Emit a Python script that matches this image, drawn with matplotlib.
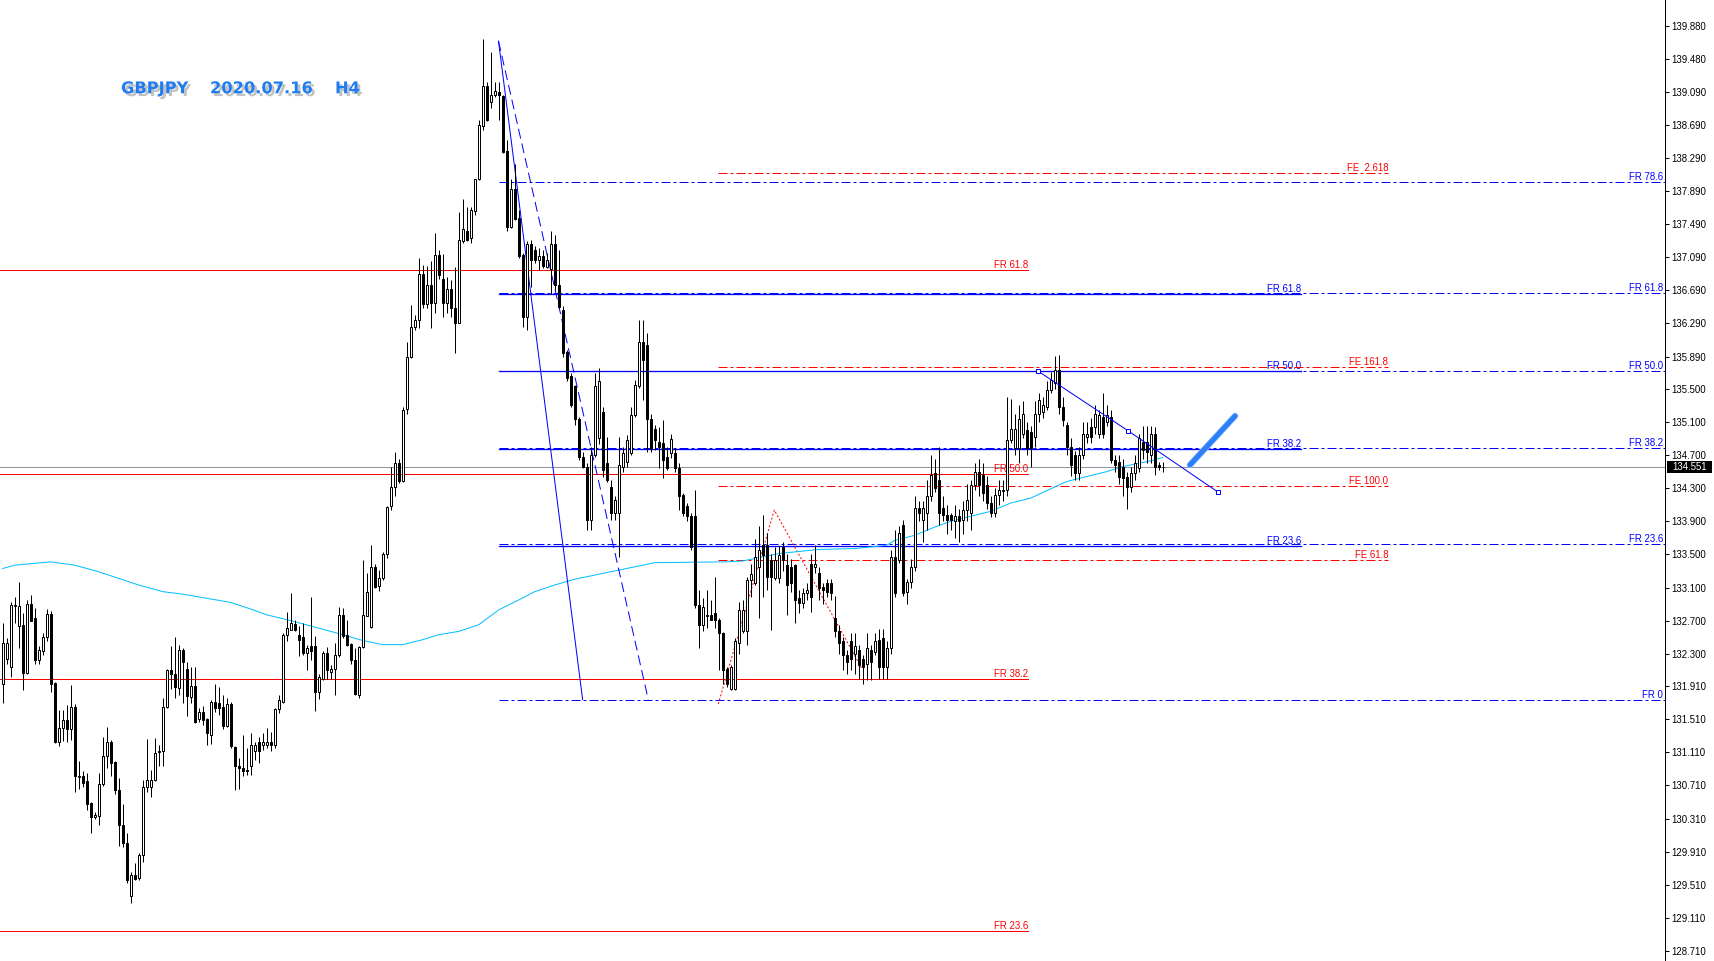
import matplotlib
matplotlib.use('Agg')
import matplotlib.pyplot as plt
import matplotlib.patheffects as pe
from matplotlib.patches import Rectangle
import matplotlib.transforms as mtransforms

plt.rcParams['lines.scale_dashes'] = False

W, H, DPI = 1714, 961, 100
PX = 72.0 / DPI  # points per pixel
SMALL = 6.9

# ---------------- data (GBPJPY H4) ----------------
opens = [131.94,132.24,132.14,132.88,132.64,132.65,132.07,132.90,132.73,132.23,
132.33,132.50,132.78,131.95,131.24,131.40,131.50,131.39,131.66,130.81,
130.82,130.76,130.50,130.33,130.34,130.73,131.06,131.24,130.99,130.66,
130.23,130.01,129.37,129.63,129.59,129.87,130.69,130.69,130.78,131.11,
131.12,131.66,132.10,132.06,131.89,132.34,132.11,131.78,131.91,131.51,
131.60,131.51,131.32,131.72,131.71,131.66,131.43,131.69,131.17,130.94,
130.92,130.90,130.94,131.13,131.24,131.20,131.20,131.24,131.20,131.63,
131.72,132.53,132.59,132.66,132.53,132.50,132.31,132.39,132.39,131.84,
132.00,132.31,132.08,132.11,132.28,132.77,132.53,132.42,132.23,131.80,
132.38,132.76,132.62,133.35,133.12,133.21,133.51,134.08,134.31,134.60,
134.39,135.26,135.89,136.25,136.33,136.89,136.53,136.75,136.54,137.12,
136.83,136.54,136.70,136.48,136.30,137.29,137.41,137.32,137.65,138.03,
138.67,139.16,138.96,139.05,139.09,139.04,138.37,137.46,137.91,137.56,
137.12,136.37,137.25,137.18,137.06,137.10,136.97,136.95,137.25,136.75,
136.45,135.95,135.65,135.53,135.14,134.68,134.56,133.92,134.70,134.90,
135.22,134.60,134.32,134.00,134.00,134.56,134.62,134.72,135.18,135.53,
136.07,136.03,135.14,135.02,134.86,134.84,134.68,134.72,134.72,134.54,
134.22,134.08,133.96,133.96,132.89,132.65,132.75,132.77,132.79,132.71,
132.55,132.12,131.88,131.88,132.43,132.57,132.57,133.19,133.15,133.35,
133.61,133.61,133.43,133.21,133.21,133.59,133.37,133.35,133.37,132.97,
132.91,133.03,133.39,133.35,133.27,133.11,133.15,133.15,132.73,132.57,
132.45,132.28,132.45,132.30,132.35,132.24,132.18,132.35,132.32,132.47,
132.49,132.14,132.37,133.47,133.43,133.86,133.05,133.17,133.35,134.06,
133.92,134.00,134.20,134.48,134.40,134.06,133.98,133.98,133.90,133.96,
133.92,134.04,134.00,134.34,134.50,134.46,134.34,134.12,134.00,134.22,
134.26,134.28,134.88,134.78,134.78,134.96,135.00,134.98,134.92,135.20,
135.22,135.28,135.49,135.57,135.73,135.28,135.06,134.80,134.70,134.48,
134.70,134.92,135.04,135.04,134.96,135.16,135.10,135.16,134.64,134.62,
134.56,134.44,134.32,134.48,134.54,134.86,134.86,134.70,134.96,134.58,
134.56]
highs = [132.67,132.49,132.92,132.99,133.17,132.79,132.95,133.01,132.85,132.39,
132.55,132.84,132.82,131.96,131.62,131.62,131.68,131.92,131.69,131.00,
130.88,130.86,130.51,130.39,130.86,131.30,131.42,131.26,131.01,130.80,
130.49,130.13,129.66,129.77,129.89,130.78,131.27,130.90,131.28,131.20,
131.76,132.11,132.39,132.50,132.41,132.37,132.20,132.14,132.14,131.64,
131.67,131.53,131.74,131.93,131.90,131.80,131.76,131.72,131.19,131.04,
131.32,131.16,131.34,131.23,131.30,131.34,131.40,131.36,131.64,131.80,
132.55,132.81,133.03,132.71,132.63,132.67,132.41,132.99,132.51,132.06,
132.33,132.38,132.16,132.43,132.87,132.85,132.71,132.43,132.37,132.39,
133.43,133.28,133.61,133.38,133.31,133.53,134.08,134.56,134.74,134.65,
135.28,136.06,136.51,136.39,137.08,136.99,136.98,137.04,137.38,137.18,
137.13,136.85,136.81,136.97,137.64,137.79,137.70,137.70,138.04,138.75,
139.73,139.21,139.57,139.21,139.21,139.05,138.51,138.03,138.22,137.66,
137.14,137.29,137.30,137.22,137.20,137.18,137.14,137.40,137.36,137.18,
136.50,135.97,135.69,135.55,135.16,134.74,134.60,134.80,135.69,135.75,
135.28,134.92,134.40,134.20,134.92,134.80,134.94,135.28,135.61,136.33,
136.33,136.17,135.20,135.06,135.04,135.12,134.80,134.95,134.78,134.60,
134.24,134.12,134.00,134.28,133.07,132.97,133.07,132.95,133.23,132.73,
132.56,132.14,132.16,132.49,132.93,132.95,133.23,133.39,133.69,133.84,
133.98,133.76,133.51,133.59,133.60,133.65,133.51,133.45,133.39,133.07,
133.10,133.15,133.51,133.61,133.35,133.15,133.20,133.20,133.00,132.65,
132.50,132.35,132.55,132.55,132.40,132.28,132.55,132.40,132.55,132.60,
132.60,132.45,133.55,133.80,133.84,133.92,133.20,133.45,134.20,134.15,
134.15,134.40,134.70,134.65,134.80,134.20,134.10,134.00,134.10,134.05,
134.15,134.35,134.40,134.60,134.65,134.60,134.45,134.20,134.30,134.40,
134.40,135.40,135.38,135.20,135.30,135.35,135.10,135.05,135.35,135.45,
135.40,135.60,135.70,135.90,135.91,135.40,135.10,134.90,134.75,134.80,
135.10,135.10,135.15,135.30,135.25,135.45,135.30,135.25,134.70,134.70,
134.65,134.50,134.55,134.70,134.95,135.05,135.05,135.05,135.04,134.62,
134.62]
lows = [131.70,132.18,132.02,132.67,132.37,131.86,132.06,132.69,132.18,132.18,
132.29,132.45,131.84,131.22,131.18,131.25,131.24,131.26,130.63,130.67,
130.69,130.41,130.13,130.31,130.23,130.70,130.92,130.82,130.60,129.98,
129.97,129.53,129.29,129.57,129.57,129.79,130.63,130.57,130.76,130.94,
130.94,131.64,131.88,131.76,131.80,131.70,131.55,131.70,131.46,131.47,
131.44,131.20,131.21,131.60,131.56,131.39,131.42,131.16,130.66,130.67,
130.82,130.84,130.84,131.02,130.98,131.14,131.16,131.12,131.16,131.58,
131.70,132.45,132.59,132.57,132.27,132.29,132.10,132.22,131.61,131.75,
131.98,131.99,131.99,131.80,132.26,132.49,132.39,132.18,131.80,131.76,
132.37,132.75,132.61,133.09,133.06,133.19,133.46,134.04,134.20,134.36,
134.38,135.20,135.87,136.21,136.23,136.47,136.47,136.23,136.41,136.83,
136.37,136.41,136.37,135.93,136.29,137.26,137.28,137.26,137.60,138.02,
138.63,138.73,138.89,139.03,138.75,138.35,137.40,137.44,137.54,137.08,
136.25,136.21,136.73,137.02,136.94,136.96,136.96,136.65,136.69,136.47,
135.89,135.60,135.28,135.06,134.64,134.54,133.80,133.80,134.68,134.83,
134.44,134.38,133.92,133.92,133.47,134.50,134.56,134.70,135.16,135.51,
135.37,134.74,134.74,134.76,134.54,134.42,134.52,134.66,134.50,134.04,
133.96,133.90,133.55,132.85,132.37,132.57,132.61,132.71,132.61,132.10,
131.94,131.90,131.86,131.86,132.30,132.55,132.41,132.99,133.13,132.73,
132.99,133.07,132.59,133.19,133.15,133.30,132.77,133.05,132.67,132.79,
132.85,132.95,132.81,133.27,132.95,132.90,132.98,132.95,132.50,132.30,
132.10,132.05,132.10,132.05,132.00,131.94,131.98,131.98,132.28,132.00,
132.00,132.00,132.30,132.99,133.40,133.00,132.90,133.10,133.30,133.90,
133.65,133.80,134.15,134.25,133.85,133.90,133.75,133.80,133.70,133.65,
133.75,133.90,133.80,134.28,134.20,134.15,134.05,133.95,133.95,134.10,
134.15,134.20,134.85,134.70,134.60,134.90,134.70,134.55,134.80,135.10,
135.15,135.25,135.45,135.50,135.20,135.05,134.70,134.45,134.40,134.40,
134.65,134.85,134.85,134.95,134.90,134.90,135.05,134.60,134.50,134.35,
134.20,134.05,134.25,134.40,134.50,134.65,134.60,134.60,134.46,134.52,
134.50]
closes = [132.43,132.43,132.89,132.89,132.88,132.07,132.90,132.70,132.23,132.34,
132.50,132.78,131.94,131.24,131.40,131.50,131.39,131.66,130.82,130.82,
130.74,130.49,130.33,130.35,130.73,131.06,131.24,130.98,130.66,130.23,
130.01,129.57,129.63,129.58,129.87,130.69,130.78,130.78,131.10,131.12,
131.66,132.10,132.06,131.90,132.34,132.20,131.79,131.91,131.48,131.60,
131.50,131.34,131.72,131.64,131.64,131.43,131.69,131.18,130.94,130.92,
130.88,130.88,131.20,131.20,131.13,131.24,131.24,131.20,131.63,131.74,
132.53,132.61,132.67,132.59,132.47,132.31,132.37,132.33,131.84,132.02,
132.31,132.10,132.11,132.28,132.77,132.51,132.41,132.22,131.81,132.38,
132.77,133.04,133.35,133.11,133.22,133.51,134.07,134.32,134.60,134.39,
135.25,135.89,136.25,136.33,136.89,136.53,136.75,136.54,137.12,136.87,
136.54,136.70,136.48,136.30,137.30,137.43,137.30,137.66,138.03,138.69,
139.16,138.75,139.05,139.10,139.05,138.36,137.46,137.91,137.55,137.10,
136.37,137.25,137.05,137.05,137.10,136.98,137.06,137.25,136.75,136.49,
135.93,135.63,135.30,135.14,134.68,134.56,133.92,134.70,135.53,135.60,
134.52,134.40,134.00,134.16,134.58,134.72,134.88,135.18,135.55,136.07,
135.85,135.14,134.77,134.88,134.80,134.64,134.54,134.89,134.54,134.20,
134.00,133.96,133.59,132.89,132.65,132.87,132.77,132.71,132.71,132.55,
132.10,131.94,132.14,132.45,132.83,132.83,133.19,133.26,133.47,133.55,
133.49,133.23,133.23,133.43,133.49,133.43,133.13,133.15,132.95,132.91,
133.03,133.07,132.99,133.39,133.09,133.07,133.05,133.03,132.57,132.43,
132.28,132.20,132.24,132.39,132.16,132.14,132.37,132.20,132.45,132.14,
132.14,132.37,133.47,133.03,133.76,133.03,133.17,133.35,134.06,134.00,
134.06,134.20,134.46,134.30,134.00,133.98,133.92,133.92,133.96,133.90,
134.04,134.16,134.34,134.50,134.34,134.24,134.12,134.00,134.22,134.28,
134.28,134.88,135.02,135.02,135.14,135.20,134.78,134.78,135.20,135.37,
135.30,135.49,135.61,135.73,135.28,135.12,134.80,134.58,134.48,134.70,
134.96,134.96,134.92,135.20,135.18,134.96,135.18,134.64,134.58,134.44,
134.42,134.32,134.48,134.60,134.90,134.76,134.74,134.96,134.56,134.56,
134.551]

# moving average (read at sample bars)
ma_bars = [0, 3, 12, 18, 24, 29, 34, 40, 45, 51, 57, 62, 66, 72, 79, 85, 90, 95, 100, 105,
           109, 114, 119, 124, 129, 133, 138, 143, 148, 160, 163, 181, 185, 194, 204, 213,
           221, 223, 228, 233, 237, 242, 247, 252, 257, 261, 266, 271, 276, 280, 287, 290]
ma_vals = [133.33, 133.37, 133.41, 133.37, 133.29, 133.21, 133.13, 133.05, 133.02, 132.97,
           132.92, 132.84, 132.77, 132.70, 132.61, 132.53, 132.46, 132.41, 132.41, 132.47,
           132.53, 132.57, 132.65, 132.83, 132.95, 133.05, 133.13, 133.20, 133.25, 133.37,
           133.40, 133.41, 133.42, 133.51, 133.56, 133.57, 133.61, 133.67, 133.73, 133.83,
           133.90, 133.96, 134.02, 134.12, 134.18, 134.27, 134.38, 134.44, 134.50, 134.56,
           134.63, 134.67]

# Fibonacci objects
fr_red_levels = [136.935, 134.467, 131.998, 128.948]
fr_red_labels = ['FR 61.8', 'FR 50.0', 'FR 38.2', 'FR 23.6']
fr_red_span = [-1.0, 256.3]

fr_blue_levels = [137.992, 136.658, 135.720, 134.783, 133.621, 131.747]
fr_blue_labels = ['FR 78.6', 'FR 61.8', 'FR 50.0', 'FR 38.2', 'FR 23.6', 'FR 0']
fr_blue_start = 123.95

fr_blue2_levels = [136.650, 135.712, 134.775, 133.597]
fr_blue2_labels = ['FR 61.8', 'FR 50.0', 'FR 38.2', 'FR 23.6']
fr_blue2_span = [123.95, 324.6]

fe_levels = [138.110, 135.760, 134.321, 133.436]
fe_labels = ['FE  2.618', 'FE 161.8', 'FE 100.0', 'FE 61.8']
fe_span = [178.8, 346.4]

fe_zigzag_bars = [178.9, 192.9, 214.75]
fe_zigzag_prices = [131.693, 134.036, 132.124]

trend_solid_bars = [123.95, 144.98]
trend_dash_bars = [123.95, 161.4]
trend_prices = [139.70, 131.747]

down_line_bars = [258.9, 281.4, 303.9]
down_line_prices = [135.712, 134.991, 134.250]

arrow_bars = [296.8, 308.1]
arrow_prices = [134.580, 135.172]

current_price = 134.551

tick_prices = [139.880, 139.480, 139.090, 138.690, 138.290, 137.890, 137.490, 137.090,
               136.690, 136.290, 135.890, 135.500, 135.100, 134.700, 134.300, 133.900,
               133.500, 133.100, 132.700, 132.300, 131.910, 131.510, 131.110, 130.710,
               130.310, 129.910, 129.510, 129.110, 128.710]

title_parts = ['GBPJPY', '2020.07.16', 'H4']

# ---------------- figure ----------------
fig = plt.figure(figsize=(W / DPI, H / DPI), dpi=DPI, facecolor='white')
axw = 1665.0 / W
ax = fig.add_axes([0, 0, axw, 1])
ax.set_facecolor('white')
ax.set_xlim(-0.675, 415.575)
ax.set_ylim(128.589, 140.196)

for s in ['left', 'top', 'bottom']:
    ax.spines[s].set_visible(False)
ax.spines['right'].set_linewidth(1 * PX)
ax.spines['right'].set_color('black')
ax.xaxis.set_visible(False)
ax.yaxis.tick_right()
ax.set_yticks(tick_prices)
ax.set_yticklabels(['%.3f' % t for t in tick_prices], fontsize=SMALL, family='Liberation Sans')
ax.tick_params(axis='y', direction='out', length=4 * PX, width=1 * PX, pad=2 * PX, colors='black')

lw1 = 1 * PX
DASHDOT = (0, (9 * PX, 3 * PX, 3 * PX, 3 * PX))
DASH = (0, (10 * PX, 5 * PX))

# current price line
ax.axhline(current_price, color='#8a949e', lw=lw1, zorder=1)

# red FR (solid) levels
for lev, lab in zip(fr_red_levels, fr_red_labels):
    ax.plot(fr_red_span, [lev, lev], color='#ff0000', lw=lw1, zorder=2)
    ax.annotate(lab, (fr_red_span[1], lev), xytext=(0, 2), textcoords='offset pixels',
                ha='right', va='baseline', color='#ff0000', fontsize=SMALL, family='Liberation Sans')

# blue FR dash-dot levels (to the axis)
xr = ax.get_xlim()[1]
for lev, lab in zip(fr_blue_levels, fr_blue_labels):
    ax.plot([fr_blue_start, xr], [lev, lev], color='#0000ff', lw=lw1, linestyle=DASHDOT, zorder=3)
    ax.annotate(lab, (xr, lev), xytext=(-2, 2), textcoords='offset pixels',
                ha='right', va='baseline', color='#0000ff', fontsize=SMALL, family='Liberation Sans')

# blue FR solid (second object)
for lev, lab in zip(fr_blue2_levels, fr_blue2_labels):
    ax.plot(fr_blue2_span, [lev, lev], color='#0000ff', lw=1.3 * PX, zorder=3)
    ax.annotate(lab, (fr_blue2_span[1], lev), xytext=(0, 2), textcoords='offset pixels',
                ha='right', va='baseline', color='#0000ff', fontsize=SMALL, family='Liberation Sans')

# FE levels
for lev, lab in zip(fe_levels, fe_labels):
    ax.plot(fe_span, [lev, lev], color='#ff0000', lw=lw1, linestyle=DASHDOT, zorder=3)
    ax.annotate(lab, (fe_span[1], lev), xytext=(0, 2), textcoords='offset pixels',
                ha='right', va='baseline', color='#ff0000', fontsize=SMALL, family='Liberation Sans')

ax.plot(fe_zigzag_bars, fe_zigzag_prices, color='#ff0000', lw=lw1, linestyle=(0, (2 * PX, 2 * PX)), zorder=3)

# moving average
ax.plot(ma_bars, ma_vals, color='#00bfff', lw=lw1, zorder=4)

# trend lines from the top
ax.plot(trend_solid_bars, trend_prices, color='#0000ff', lw=lw1, zorder=4)
ax.plot(trend_dash_bars, trend_prices, color='#0000ff', lw=lw1, linestyle=DASH, zorder=4)

# candles
n = len(opens)
xs = list(range(n))
ax.vlines(xs, lows, highs, colors='black', lw=lw1, zorder=5)
for i in range(n):
    o, c = opens[i], closes[i]
    bottom = min(o, c)
    h = max(abs(c - o), 0.004)
    face = 'white' if c > o else 'black'
    ax.add_patch(Rectangle((i - 0.25, bottom), 0.5, h, facecolor=face, edgecolor='black',
                           lw=lw1, zorder=6))

# descending line with anchor squares
ax.plot(down_line_bars, down_line_prices, color='#0000ff', lw=lw1, zorder=7)
ax.plot(down_line_bars, down_line_prices, linestyle='none', marker='s', markersize=5 * PX,
        markerfacecolor='white', markeredgecolor='#0000ff', markeredgewidth=lw1, zorder=8)

# thick blue stroke
ax.plot(arrow_bars, arrow_prices, color='#2d7ff9', lw=5 * PX, solid_capstyle='round', zorder=8,
        path_effects=[pe.Stroke(linewidth=6.5 * PX, foreground='#9cc4fb'), pe.Normal()])

# current price box on the axis
trans = mtransforms.blended_transform_factory(ax.transAxes, ax.transData)
box_h = 12 * (ax.get_ylim()[1] - ax.get_ylim()[0]) / H
ax.add_patch(Rectangle((1667.0 / 1665.0, current_price - box_h / 2), 45.0 / 1665.0, box_h,
                       transform=trans, facecolor='black', edgecolor='none', clip_on=False, zorder=10))
ax.text(1689.5 / 1665.0, current_price, '%.3f' % current_price, transform=trans, color='white',
        fontsize=SMALL, family='Liberation Sans', ha='center', va='center', zorder=11, clip_on=False)

# title
title_x = [121.0, 210.0, 335.0]
for txt, xp in zip(title_parts, title_x):
    fig.text(xp / W, 1 - 93.3 / H, txt, color='#1f7cf2', fontsize=11.7, fontweight='bold',
             family='DejaVu Sans', ha='left', va='baseline',
             path_effects=[pe.withSimplePatchShadow(offset=(2, -2), shadow_rgbFace='#9a9a9a', alpha=0.6)])

fig.savefig('out.png', dpi=DPI, facecolor='white')
